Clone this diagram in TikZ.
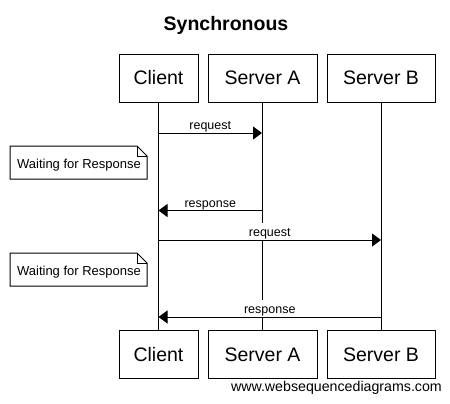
\documentclass[tikz,border=0pt]{standalone}
\usepackage{fontspec}
\setmainfont{Liberation Sans}
\usetikzlibrary{arrows.meta,calc}
\tikzset{
  actor/.style={draw, line width=1bp, minimum height=48bp, inner sep=0pt,
    font=\fontsize{19.5bp}{23bp}\selectfont},
  lifeline/.style={line width=1bp},
  msg/.style={line width=1bp, -{Triangle[length=9bp,width=13bp]}},
  msglabel/.style={fill=white, inner sep=0pt, text height=14bp, text depth=3bp,
    anchor=south, font=\fontsize{12.5bp}{15bp}\selectfont},
  notebox/.style={draw, line width=1bp, fill=white},
  notetext/.style={inner sep=0pt, anchor=base, font=\fontsize{13bp}{15bp}\selectfont},
}
\begin{document}
\begin{tikzpicture}[x=1bp, y=-1bp]
\useasboundingbox (0,0) rectangle (450,403);
% title
\node[anchor=base, font=\bfseries\fontsize{19.5bp}{23bp}\selectfont] (title) at (226,30) {Synchronous};
% actors top
\node[actor, minimum width=79bp]  (ct) at (158.5,78) {Client};
\node[actor, minimum width=109bp] (at) at (262.5,78) {Server A};
\node[actor, minimum width=108bp] (bt) at (381,78) {Server B};
% actors bottom
\node[actor, minimum width=79bp]  (cb) at (158.5,354.5) {Client};
\node[actor, minimum width=109bp] (ab) at (262.5,354.5) {Server A};
\node[actor, minimum width=108bp] (bb) at (381,354.5) {Server B};
% lifelines
\coordinate (ctl) at (158.5,102); \coordinate (cbl) at (158.5,330.5);
\coordinate (atl) at (262,102);   \coordinate (abl) at (262,330.5);
\coordinate (btl) at (381,102);   \coordinate (bbl) at (381,330.5);
\draw[lifeline] (ctl) -- (cbl);
\draw[lifeline] (atl) -- (abl);
\draw[lifeline] (btl) -- (bbl);
% message rows
\coordinate (r1) at (0,133);
\coordinate (r2) at (0,210.5);
\coordinate (r3) at (0,240);
\coordinate (r4) at (0,317);
% request 1
\coordinate (m1a) at (ctl |- r1); \coordinate (m1b) at (atl |- r1);
\node[msglabel] (l1) at ($(m1a)!0.5!(m1b)$) {request};
\draw[msg] (m1a) -- (m1b);
% note 1
\draw[notebox] (10,146) -- (137,146) -- (147,156) -- (147,179) -- (10,179) -- cycle;
\draw[line width=1bp] (137,146) -- (137,156) -- (147,156);
\node[notetext] (n1) at (79,168.3) {Waiting for Response};
% response 1
\coordinate (m2a) at (atl |- r2); \coordinate (m2b) at (ctl |- r2);
\node[msglabel] (l2) at ($(m2a)!0.5!(m2b)$) {response};
\draw[msg] (m2a) -- (m2b);
% request 2
\coordinate (m3a) at (ctl |- r3); \coordinate (m3b) at (btl |- r3);
\node[msglabel] (l3) at ($(m3a)!0.5!(m3b)$) {request};
\draw[msg] (m3a) -- (m3b);
% note 2
\draw[notebox] (10,253) -- (137,253) -- (147,263) -- (147,286) -- (10,286) -- cycle;
\draw[line width=1bp] (137,253) -- (137,263) -- (147,263);
\node[notetext] (n2) at (79,275.3) {Waiting for Response};
% response 2
\coordinate (m4a) at (btl |- r4); \coordinate (m4b) at (ctl |- r4);
\node[msglabel] (l4) at ($(m4a)!0.5!(m4b)$) {response};
\draw[msg] (m4a) -- (m4b);
% watermark
\node[anchor=base east, inner sep=0pt, font=\fontsize{14.2bp}{17bp}\selectfont] (wm) at (442,391.5) {www.websequencediagrams.com};
\end{tikzpicture}
\end{document}
